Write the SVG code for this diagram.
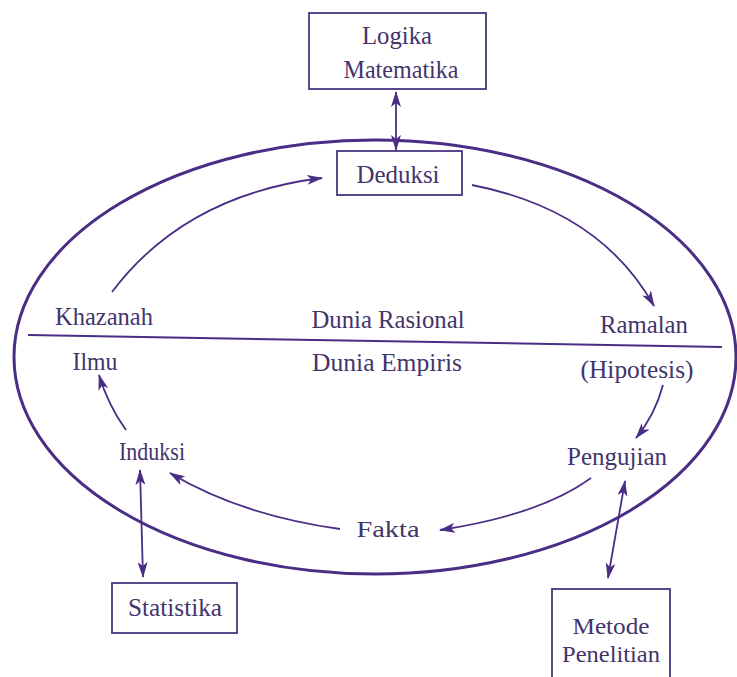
<svg xmlns="http://www.w3.org/2000/svg" width="737" height="677" viewBox="0 0 737 677">
  <style>
    .lbl { font-family: "Liberation Serif", "Times New Roman", serif; font-size: 26px; fill: #43346b; text-anchor: middle; }
    .sm { font-size: 24px; }
    .box { fill: #ffffff; stroke: #4a3480; stroke-width: 1.8; }
    .edge { fill: none; stroke: #4a2d85; stroke-width: 1.8; }
    .ring { fill: none; stroke: #4a2d85; stroke-width: 3; }
  </style>
  <defs>
    <marker id="arrow" viewBox="0 0 16 10" refX="15" refY="5" markerWidth="16" markerHeight="10" markerUnits="userSpaceOnUse" orient="auto-start-reverse">
      <path d="M0,0 L16,5 L0,10 L4,5 Z" fill="#4a2d85"/>
    </marker>
  </defs>
  <rect width="737" height="677" fill="#ffffff"/>

  <!-- outer world boundary and the rational/empirical divider -->
  <g id="world">
    <ellipse class="ring" cx="375" cy="357" rx="361" ry="217"/>
    <line x1="28" y1="335" x2="722" y2="347" stroke="#4a2d85" stroke-width="2"/>
    <text class="lbl" x="388" y="328" textLength="153" lengthAdjust="spacingAndGlyphs">Dunia Rasional</text>
    <text class="lbl" x="387" y="371" textLength="150" lengthAdjust="spacingAndGlyphs">Dunia Empiris</text>
  </g>

  <g id="connectors">
    <line class="edge" x1="396" y1="92" x2="396" y2="150" marker-start="url(#arrow)" marker-end="url(#arrow)"/>
    <path class="edge" d="M112,292 Q185,195 322,178" marker-end="url(#arrow)"/>
    <path class="edge" d="M472,185 Q600,210 654,306" marker-end="url(#arrow)"/>
    <path class="edge" d="M663,385 Q655,415 636,438" marker-end="url(#arrow)"/>
    <path class="edge" d="M591,478 Q540,515 440,530" marker-end="url(#arrow)"/>
    <path class="edge" d="M340,529 Q240,515 170,473" marker-end="url(#arrow)"/>
    <path class="edge" d="M126,430 Q108,405 99,375" marker-end="url(#arrow)"/>
    <line class="edge" x1="140" y1="470" x2="143" y2="577" marker-start="url(#arrow)" marker-end="url(#arrow)"/>
    <line class="edge" x1="625" y1="481" x2="608" y2="578" marker-start="url(#arrow)" marker-end="url(#arrow)"/>
  </g>

  <g id="logika-matematika">
    <rect class="box" x="309" y="13" width="177" height="76"/>
    <text class="lbl" x="397" y="44" textLength="70" lengthAdjust="spacingAndGlyphs">Logika</text>
    <text class="lbl" x="401" y="78" textLength="115" lengthAdjust="spacingAndGlyphs">Matematika</text>
  </g>

  <g id="deduksi">
    <rect class="box" x="337" y="151" width="125" height="44"/>
    <text class="lbl" x="398" y="183" textLength="83" lengthAdjust="spacingAndGlyphs">Deduksi</text>
  </g>

  <g id="khazanah-ilmu">
    <text class="lbl" x="104" y="325" textLength="98" lengthAdjust="spacingAndGlyphs">Khazanah</text>
    <text class="lbl" x="95" y="370" textLength="45" lengthAdjust="spacingAndGlyphs">Ilmu</text>
  </g>

  <g id="ramalan-hipotesis">
    <text class="lbl" x="644" y="333" textLength="88" lengthAdjust="spacingAndGlyphs">Ramalan</text>
    <text class="lbl" x="637" y="378" textLength="113" lengthAdjust="spacingAndGlyphs">(Hipotesis)</text>
  </g>

  <g id="pengujian">
    <text class="lbl" x="617" y="465" textLength="100" lengthAdjust="spacingAndGlyphs">Pengujian</text>
  </g>

  <g id="fakta">
    <text class="lbl sm" x="388" y="537" textLength="63" lengthAdjust="spacingAndGlyphs">Fakta</text>
  </g>

  <g id="induksi">
    <text class="lbl" x="152" y="460" textLength="66" lengthAdjust="spacingAndGlyphs">Induksi</text>
  </g>

  <g id="statistika">
    <rect class="box" x="112" y="583" width="125" height="50"/>
    <text class="lbl" x="175" y="616" textLength="94" lengthAdjust="spacingAndGlyphs">Statistika</text>
  </g>

  <g id="metode-penelitian">
    <rect class="box" x="552" y="589" width="118" height="110"/>
    <text class="lbl sm" x="611" y="634" textLength="77" lengthAdjust="spacingAndGlyphs">Metode</text>
    <text class="lbl sm" x="611" y="662" textLength="98" lengthAdjust="spacingAndGlyphs">Penelitian</text>
  </g>
</svg>
